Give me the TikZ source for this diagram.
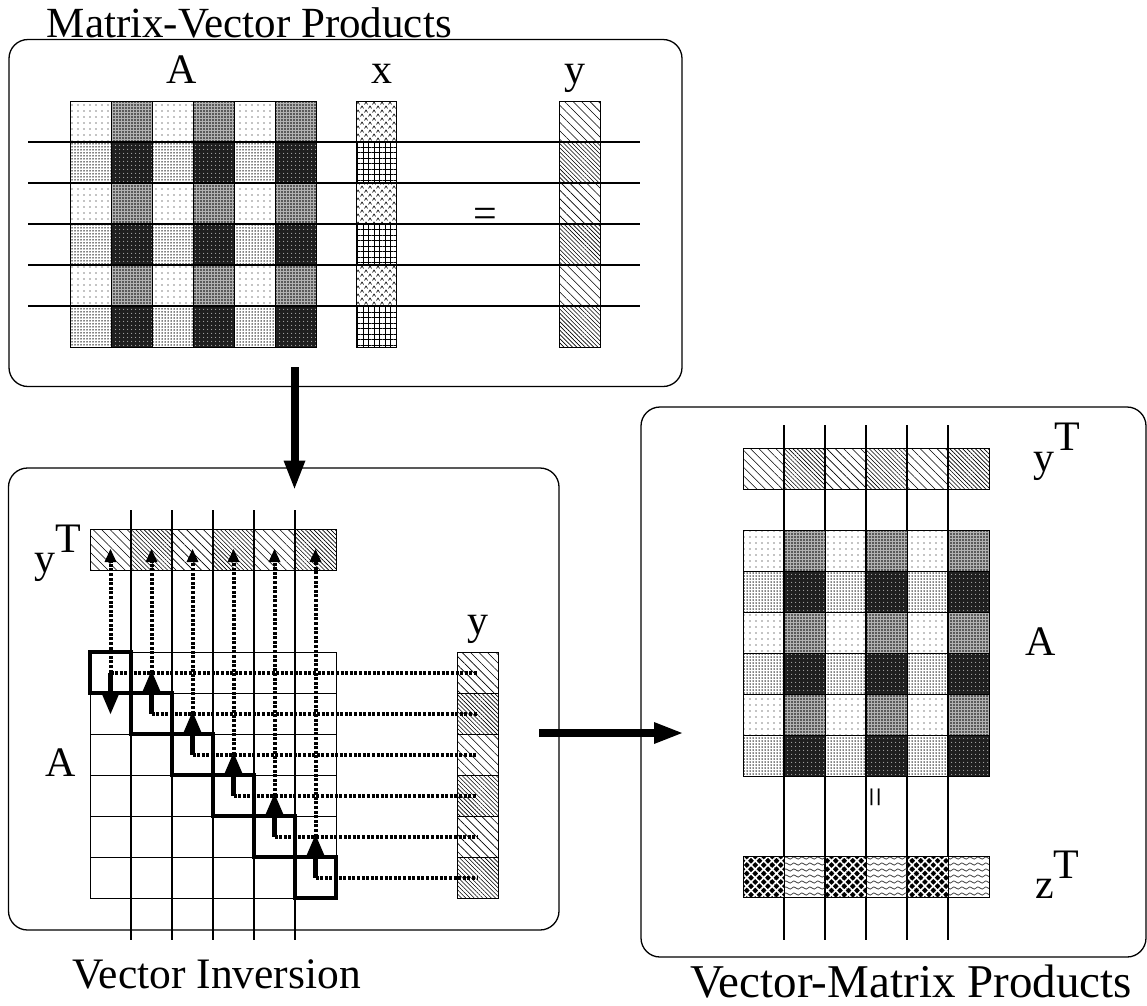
\documentclass[tikz,border=0pt]{standalone}
\usepackage{fontspec}
\setmainfont{Liberation Serif}
\usepackage{graphicx}
\usetikzlibrary{patterns,patterns.meta,arrows.meta}

\pgfdeclarepatternformonly{carets}{\pgfqpoint{-1pt}{-1pt}}{\pgfqpoint{9pt}{9pt}}{\pgfqpoint{8pt}{8pt}}{%
  \pgfsetlinewidth{0.6pt}%
  \pgfpathmoveto{\pgfqpoint{0.5pt}{0.5pt}}\pgfpathlineto{\pgfqpoint{2pt}{3pt}}\pgfpathlineto{\pgfqpoint{3.5pt}{0.5pt}}%
  \pgfpathmoveto{\pgfqpoint{4.5pt}{4.5pt}}\pgfpathlineto{\pgfqpoint{6pt}{7pt}}\pgfpathlineto{\pgfqpoint{7.5pt}{4.5pt}}%
  \pgfusepath{stroke}}
\pgfdeclarepatternformonly{waves}{\pgfqpoint{0pt}{-1pt}}{\pgfqpoint{8pt}{7pt}}{\pgfqpoint{8pt}{6pt}}{%
  \pgfsetlinewidth{0.7pt}%
  \pgfpathmoveto{\pgfqpoint{0pt}{3pt}}\pgfpathcurveto{\pgfqpoint{2pt}{7pt}}{\pgfqpoint{6pt}{-1pt}}{\pgfqpoint{8pt}{3pt}}%
  \pgfusepath{stroke}}

\tikzset{
  cell/.style={draw=black, line width=1pt},
  A00/.style={cell, pattern={Dots[distance=6pt,radius=0.6pt]}},
  A01/.style={cell, preaction={fill=black!30}, pattern={Dots[distance=3pt,radius=0.8pt]}},
  A10/.style={cell, pattern={Dots[distance=3pt,radius=0.75pt]}},
  A11/.style={cell, preaction={fill=black!88}, pattern={Dots[distance=4pt,radius=0.6pt]}, pattern color=white},
  X0/.style={cell, pattern=carets},
  X1/.style={cell, pattern={Hatch[angle=0,distance=5.5pt,line width=0.8pt]}},
  Y0/.style={cell, pattern={Lines[angle=-45,distance=6pt,line width=0.6pt]}},
  Y1/.style={cell, pattern={Lines[angle=-45,distance=3pt,line width=0.6pt]}},
  Z0/.style={cell, preaction={fill=black}, pattern={Hatch[angle=45,distance=6pt,line width=1.6pt]}, pattern color=white},
  Z1/.style={cell, pattern=waves, pattern color=black!80},
  box/.style={draw=black, line width=1.3pt, rounded corners=19pt},
  thinln/.style={draw=black, line width=1.1pt},
  diagbox/.style={draw=black, line width=3.5pt},
  bigarrow/.style={line width=8pt, -{Triangle[width=22pt,length=28pt,line width=0pt]}},
  smallarrow/.style={line width=5pt, -{Triangle[width=18pt,length=21pt,line width=0pt]}},
  dotarrow/.style={line width=4pt, dash pattern=on 3pt off 1.6pt, -{Triangle[width=12pt,length=13pt,line width=0pt]}},
  dotln/.style={line width=4pt, dash pattern=on 3pt off 1.6pt},
  lbl/.style={inner sep=0pt, anchor=base},
  lblw/.style={inner sep=0pt, anchor=base west},
}

\begin{document}
\begin{tikzpicture}[x=1pt,y=-1pt,font=\fontsize{42}{48}\selectfont]
\useasboundingbox (0,0) rectangle (1147,1005);

% ---------- boxes ----------
\draw[box] (9,39.5) rectangle (682,386.5);
\draw[box] (8.5,468) rectangle (559,930);
\draw[box] (641,407) rectangle (1146,957);

% ---------- top: Matrix-Vector Products ----------
\node[lblw] (title1) at (46.7,37) {\fontsize{43}{48}\selectfont Matrix-Vector Products};
\node[lbl] (lA1) at (181.7,83.3) {A};
\node[lbl] (lx1) at (381.7,83.3) {x};
\node[lbl] (ly1) at (575,83.3) {y};

\foreach \i in {0,...,5}{\foreach \j in {0,...,5}{
  \pgfmathtruncatemacro\r{mod(\i,2)}\pgfmathtruncatemacro\c{mod(\j,2)}
  \path[A\r\c] ({70+41*\j},{101+41*\i}) rectangle ++(41,41);
}}
\foreach \k in {0,...,5}{
  \pgfmathtruncatemacro\c{mod(\k,2)}
  \path[X\c] (356,{101+41*\k}) rectangle ++(40,41);
  \path[Y\c] (559.5,{101+41*\k}) rectangle ++(41,41);
}
\foreach \k in {1,...,5}{
  \draw[thinln] (28,{101+41*\k}) -- (640,{101+41*\k});
}
\node[lbl] (eq1) at (485,227) {=};

% ---------- arrows between boxes ----------
\coordinate (d1) at (294.5,367);
\coordinate (d2) at (294.5,488.5);
\draw[bigarrow] (d1) -- (d2);
\coordinate (r1) at (539,733);
\coordinate (r2) at (682,733);
\draw[bigarrow] (r1) -- (r2);

% ---------- bottom left: Vector Inversion ----------
\foreach \k in {1,...,5}{
  \draw[thinln] ({90+41*\k},510) -- ({90+41*\k},940);
}
\foreach \k in {0,...,5}{
  \pgfmathtruncatemacro\c{mod(\k,2)}
  \path[Y\c] ({90+41*\k},529) rectangle ++(41,41);
  \path[Y\c] (457.5,{652+41*\k}) rectangle ++(41,41);
}
\foreach \i in {0,...,5}{\foreach \j in {0,...,5}{
  \path[cell] ({90+41*\j},{652+41*\i}) rectangle ++(41,41);
}}
\foreach \k in {0,...,5}{
  \draw[diagbox] ({90+41*\k},{652+41*\k}) rectangle ++(41,41);
}
% dotted horizontal lines
\foreach \k in {0,...,5}{
  \draw[dotln] ({110.5+41*\k},{672.5+41*\k}) -- (477,{672.5+41*\k});
}
% dotted vertical arrows to y^T
\draw[dotarrow] (110.5,672.5) -- (110.5,549);
\foreach \k in {1,...,5}{
  \draw[dotarrow] ({110.5+41*\k},{672.5+41*(\k-1)}) -- ({110.5+41*\k},549);
}
% solid arrows
\draw[smallarrow] (110.5,672.5) -- (110.5,714);
\foreach \k in {1,...,5}{
  \draw[smallarrow] ({110.5+41*\k},{672.5+41*\k}) -- ({110.5+41*\k},{672.5+41*(\k-1)-2});
}
\node[lblw] (lyT2) at (34,572) {y\raisebox{20pt}{T}};
\node[lblw] (lA2) at (45,776.5) {A};
\node[lbl] (ly2) at (478,634) {y};
\node[lblw] (cap2) at (72,988) {\fontsize{43.5}{48}\selectfont Vector Inversion};

% ---------- bottom right: Vector-Matrix Products ----------
\foreach \k in {1,...,5}{
  \draw[thinln] ({743+41*\k},425) -- ({743+41*\k},940);
}
\foreach \k in {0,...,5}{
  \pgfmathtruncatemacro\c{mod(\k,2)}
  \path[Y\c] ({743+41*\k},448) rectangle ++(41,41);
  \path[Z\c] ({743+41*\k},856) rectangle ++(41,41);
}
\foreach \i in {0,...,5}{\foreach \j in {0,...,5}{
  \pgfmathtruncatemacro\r{mod(\i,2)}\pgfmathtruncatemacro\c{mod(\j,2)}
  \path[A\r\c] ({743+41*\j},{530+41*\i}) rectangle ++(41,41);
}}
\node[lblw] (lyT3) at (1033,471.7) {y\raisebox{21pt}{T}};
\node[lblw] (lA3) at (1025,655) {A};
\node[lblw] (lzT3) at (1035,898) {z\raisebox{20pt}{T}};
\node[rotate=90,inner sep=0pt] (eq3) at (879,797) {\fontsize{36}{40}\selectfont =};
\node[lblw] (cap3) at (690,997) {\fontsize{47}{50}\selectfont Vector-Matrix Products};
\end{tikzpicture}
\end{document}
